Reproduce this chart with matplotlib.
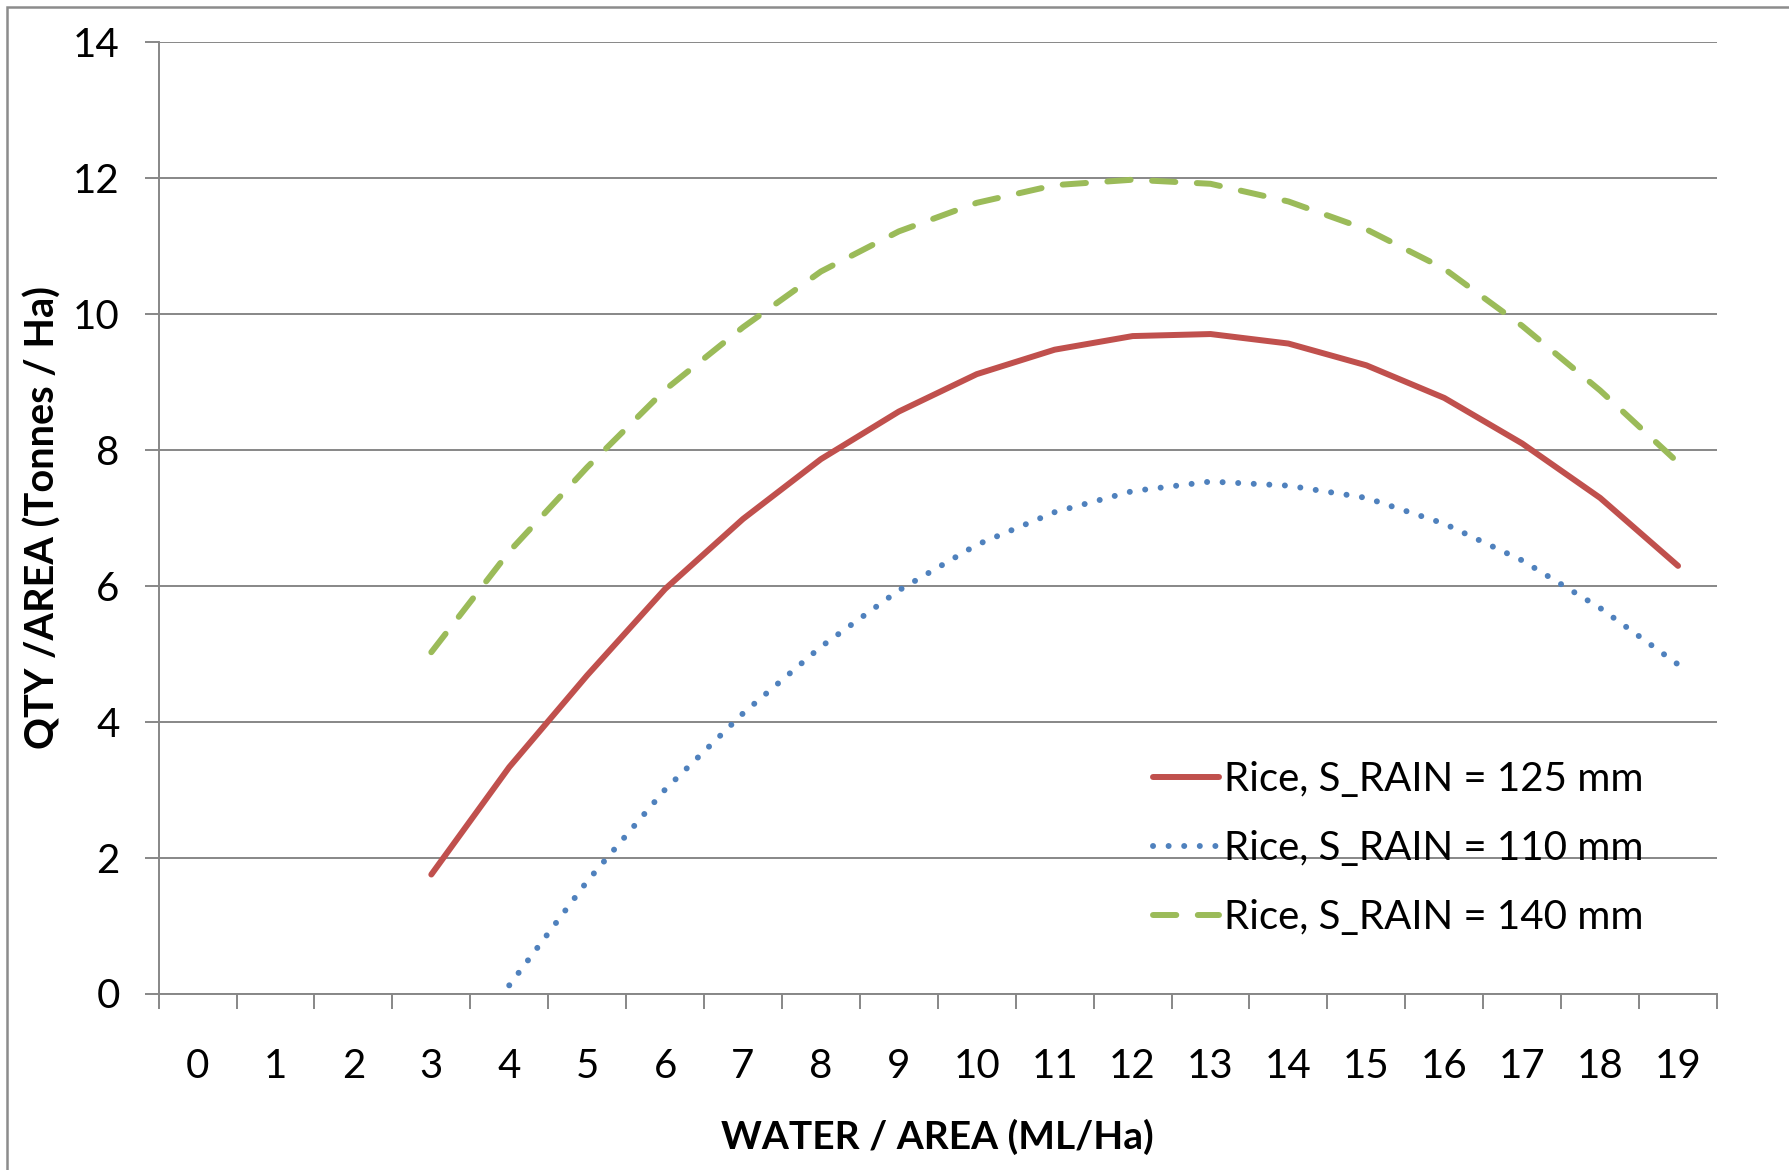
import matplotlib
matplotlib.use("Agg")
import matplotlib.pyplot as plt
from matplotlib.patches import Rectangle
import numpy as np

categories = list(range(20))
x_labels = [str(c) for c in categories]

x_red = list(range(3, 20))
rice_125 = [1.75, 3.33, 4.68, 5.95, 6.98, 7.86, 8.56, 9.11, 9.47, 9.67, 9.70, 9.56, 9.24, 8.76, 8.09, 7.29, 6.29]

x_blue = list(range(4, 20))
rice_110 = [0.12, 1.65, 3.00, 4.12, 5.10, 5.93, 6.60, 7.08, 7.39, 7.53, 7.47, 7.29, 6.91, 6.37, 5.67, 4.84]

x_green = list(range(3, 20))
rice_140 = [5.02, 6.50, 7.74, 8.88, 9.80, 10.62, 11.21, 11.63, 11.89, 11.97, 11.91, 11.65, 11.24, 10.66, 9.82, 8.87, 7.81]

legend_labels = ["Rice, S_RAIN = 125 mm", "Rice, S_RAIN = 110 mm", "Rice, S_RAIN = 140 mm"]
y_ticks = [0, 2, 4, 6, 8, 10, 12, 14]

RED = "#C0504D"
BLUE = "#4F81BD"
GREEN = "#9BBB59"
GRID = "#878787"

plt.rcParams['font.family'] = ['Lato', 'DejaVu Sans']

W, H = 1789, 1170
fig = plt.figure(figsize=(W / 100, H / 100), dpi=100)
fig.patch.set_facecolor("white")

# outer chart border (left and top visible)
border = Rectangle((7 / W, -0.05), 1.2, 1 - 7 / H + 0.05, transform=fig.transFigure,
                   fill=False, edgecolor="#8c8c8c", linewidth=1.8, zorder=0)
fig.patches.append(border)

left, right, top, bottom = 158.6, 1717.0, 41.7, 993.5
ax = fig.add_axes([left / W, (H - bottom) / H, (right - left) / W, (bottom - top) / H])

lw = 4.3
ax.plot(x_red, rice_125, color=RED, lw=lw, solid_capstyle="round", solid_joinstyle="round",
        label=legend_labels[0], zorder=3)
ax.plot(x_blue, rice_110, color=BLUE, lw=lw, linestyle=(0, (0.01, 2.6)),
        dash_capstyle="round", label=legend_labels[1], zorder=3)
ax.plot(x_green, rice_140, color=GREEN, lw=lw, linestyle=(0, (3.9, 3.6)),
        dash_capstyle="round", label=legend_labels[2], zorder=3)

ax.set_xlim(-0.5, 19.5)
ax.set_ylim(0, 14)

ax.set_yticks(y_ticks)
ax.set_yticklabels([str(t) for t in y_ticks])
ax.set_xticks(categories)
ax.set_xticklabels(x_labels)
ax.set_xticks(np.arange(-0.5, 20.0, 1.0), minor=True)

ax.tick_params(axis="y", which="major", length=10, width=1.4, color=GRID, pad=18,
               labelsize=29, labelcolor="black")
ax.tick_params(axis="x", which="major", length=0, pad=39, labelsize=29, labelcolor="black")
ax.tick_params(axis="x", which="minor", length=11, width=1.4, color=GRID, direction="out")

ax.yaxis.grid(True, color=GRID, linewidth=1.4)
ax.set_axisbelow(True)

for s in ["top", "right"]:
    ax.spines[s].set_visible(False)
for s in ["left", "bottom"]:
    ax.spines[s].set_color(GRID)
    ax.spines[s].set_linewidth(1.4)

fig.text(((left + right) / 2) / W, (H - 1137) / H, "WATER / AREA (ML/Ha)",
         fontsize=28, fontweight="bold", ha="center", va="center")
fig.text(43 / W, (H - (top + bottom) / 2) / H, "QTY /AREA (Tonnes / Ha)",
         fontsize=28.5, fontweight="bold", ha="center", va="center", rotation=90)

leg = ax.legend(loc="upper left", bbox_to_anchor=(1153 / W, (H - 761) / H),
                bbox_transform=fig.transFigure, frameon=False, fontsize=29,
                handlelength=1.65, handletextpad=0.12, labelspacing=0.8,
                borderpad=0, borderaxespad=0)

fig.savefig("out.png", dpi=100)
